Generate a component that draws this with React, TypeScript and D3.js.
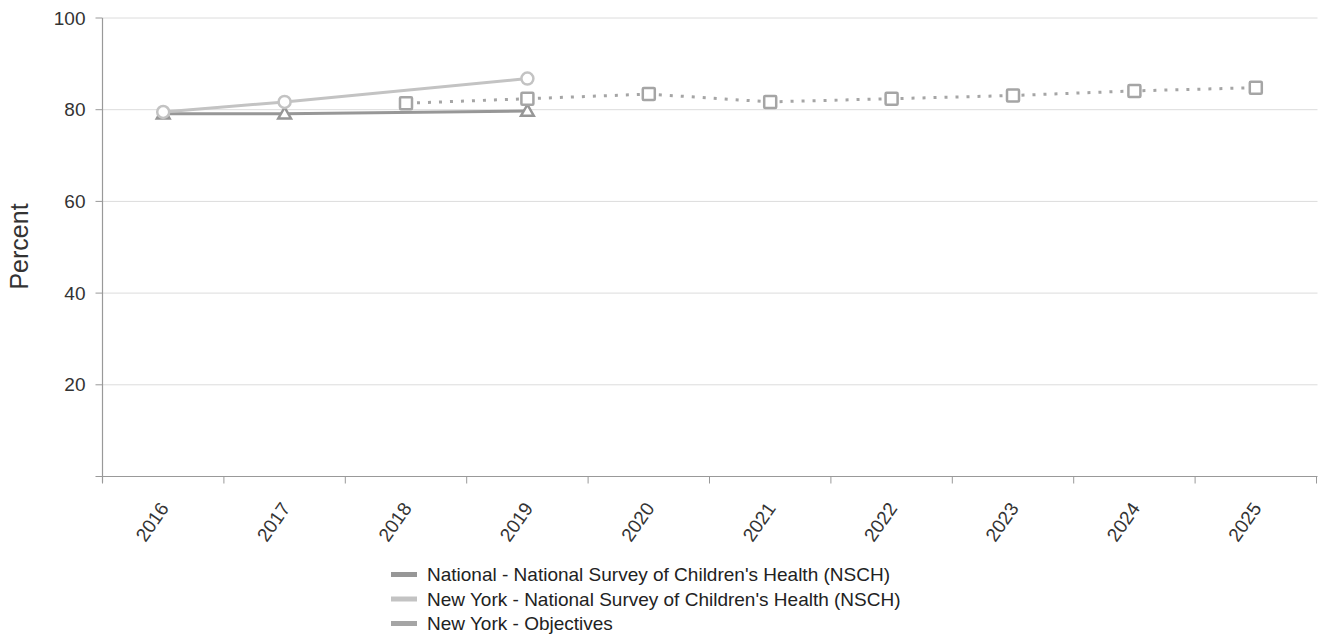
import React from "react";
import * as d3 from "d3";

const years = ["2016", "2017", "2018", "2019", "2020", "2021", "2022", "2023", "2024", "2025"];
const yTicks = [0, 20, 40, 60, 80, 100];

const nationalYears = ["2016", "2017", "2019"];
const nationalValues = [79.1, 79.1, 79.7];

const nyYears = ["2016", "2017", "2019"];
const nyValues = [79.5, 81.7, 86.8];

const objYears = ["2018", "2019", "2020", "2021", "2022", "2023", "2024", "2025"];
const objValues = [81.4, 82.4, 83.4, 81.7, 82.4, 83.1, 84.1, 84.8];

const legendLabels = [
  "National - National Survey of Children's Health (NSCH)",
  "New York - National Survey of Children's Health (NSCH)",
  "New York - Objectives",
];

const colNational = "#979797";
const colNY = "#c3c3c3";
const colObj = "#a5a5a5";

export default function App() {
  const W = 1318, H = 637;
  const left = 102.5, right = 1316.5, top = 18, bottom = 476.5;
  const x = d3.scaleBand<string>().domain(years).range([left, right]);
  const y = d3.scaleLinear().domain([0, 100]).range([bottom, top]);
  const cx = (d: string) => (x(d) as number) + x.bandwidth() / 2;
  const line = d3.line<[string, number]>().x((d) => cx(d[0])).y((d) => y(d[1]));

  const nat = nationalYears.map((d, i) => [d, nationalValues[i]] as [string, number]);
  const ny = nyYears.map((d, i) => [d, nyValues[i]] as [string, number]);
  const obj = objYears.map((d, i) => [d, objValues[i]] as [string, number]);

  const font = "'Liberation Sans', Arial, sans-serif";
  const tri = d3.symbol(d3.symbolTriangle, 70)();

  return (
    <svg width={W} height={H} style={{ position: "absolute", left: 0, top: 0 }} fontFamily={font}>
      {yTicks.filter((t) => t > 0).map((t) => (
        <line key={"g" + t} x1={left} x2={right + 1} y1={y(t)} y2={y(t)} stroke="#dcdcdc" strokeWidth={1} />
      ))}
      {yTicks.map((t) => (
        <g key={"yt" + t}>
          <line x1={left - 7} x2={left} y1={y(t)} y2={y(t)} stroke="#999" strokeWidth={1} />
          {t > 0 && (
            <text x={left - 17} y={y(t)} dy="0.35em" textAnchor="end" fontSize={19} fill="#333">
              {t}
            </text>
          )}
        </g>
      ))}
      <line x1={left} x2={left} y1={top} y2={bottom + 6} stroke="#999" strokeWidth={1.2} />
      <line x1={left} x2={right + 1} y1={bottom} y2={bottom} stroke="#999" strokeWidth={1.2} />
      {years.map((d) => (
        <line key={"xt" + d} x1={x(d) as number} x2={x(d) as number} y1={bottom} y2={bottom + 7} stroke="#999" strokeWidth={1} />
      ))}
      <line x1={right} x2={right} y1={bottom} y2={bottom + 7} stroke="#999" strokeWidth={1} />
      {years.map((d) => (
        <text
          key={"xl" + d}
          transform={`translate(${cx(d) + 1},${bottom + 28}) rotate(-55)`}
          textAnchor="end"
          dy="0.35em"
          fontSize={19}
          fill="#333"
        >
          {d}
        </text>
      ))}
      <text transform={`translate(28,${246.5}) rotate(-90)`} textAnchor="middle" fontSize={25} fill="#333">
        Percent
      </text>

      <path d={line(nat) as string} fill="none" stroke={colNational} strokeWidth={3} />
      <path d={line(ny) as string} fill="none" stroke={colNY} strokeWidth={3} />
      <path d={line(obj) as string} fill="none" stroke={colObj} strokeWidth={3} strokeDasharray="3,8" />

      {nat.map((d) => (
        <path key={"tn" + d[0]} d={tri as string} transform={`translate(${cx(d[0])},${y(d[1]) + 1})`} fill="#fff" stroke={colNational} strokeWidth={2.5} />
      ))}
      {ny.map((d) => (
        <circle key={"cn" + d[0]} cx={cx(d[0])} cy={y(d[1])} r={6} fill="#fff" stroke={colNY} strokeWidth={2.5} />
      ))}
      {obj.map((d) => (
        <rect key={"sq" + d[0]} x={cx(d[0]) - 6} y={y(d[1]) - 6} width={12} height={12} rx={1} fill="#fff" stroke={colObj} strokeWidth={2.5} />
      ))}

      {legendLabels.map((l, i) => (
        <g key={"lg" + i} transform={`translate(391,${574.5 + i * 24.5})`}>
          <rect x={0} y={-2.5} width={26} height={5} fill={[colNational, colNY, colObj][i]} />
          <text x={36} y={0} dy="0.35em" fontSize={19} fill="#222">
            {l}
          </text>
        </g>
      ))}
    </svg>
  );
}
